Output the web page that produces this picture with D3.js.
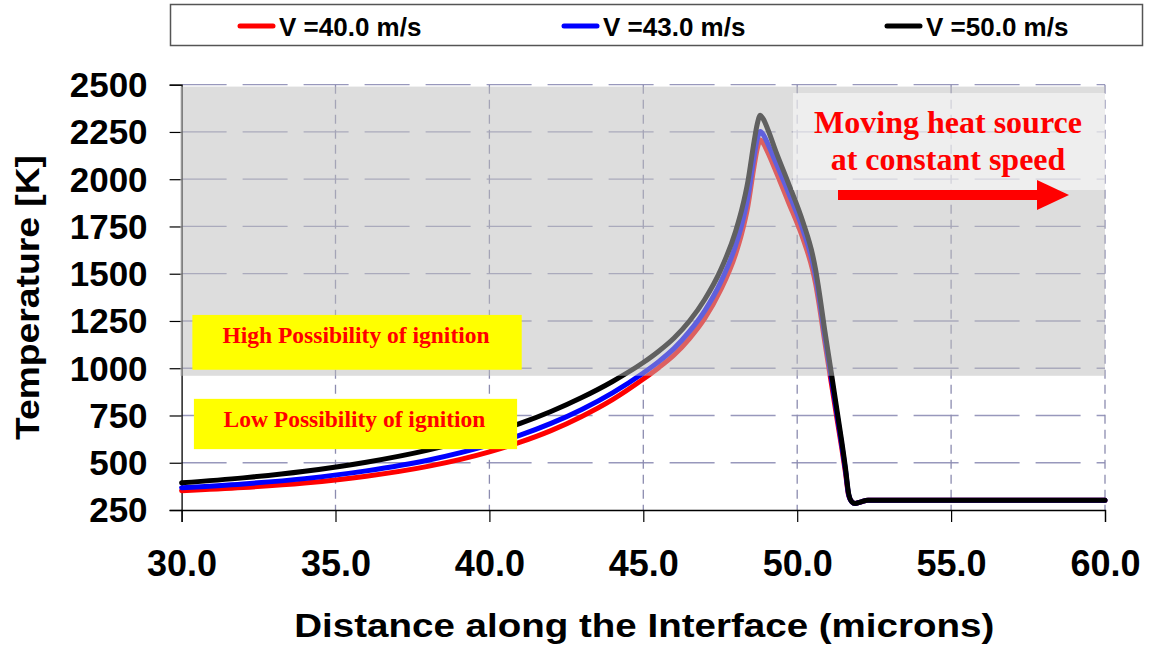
<!DOCTYPE html>
<html>
<head>
<meta charset="utf-8">
<script src="https://cdn.jsdelivr.net/npm/d3@7"></script>
<style>
  html, body { margin: 0; padding: 0; background: #ffffff; }
  svg { display: block; }
</style>
</head>
<body>
<svg id="chart" width="1150" height="649"></svg>
<script>
// ---------------- data ----------------
const distance = [30,32,34,36,38,40,41,42,43,44,45,45.5,46,46.5,47,47.5,48,48.2,48.4,48.6,48.7,48.8,48.9,49.05,49.3,49.7,50.2,50.5,50.6,50.7,50.9,51.1,51.3,51.45,51.57,51.67,51.78,51.88,52.05,52.3,53,56,60];
const tempV40 = [352,369,393,429,481,558,609,670,745,834,943,1003,1070,1157,1265,1410,1605,1715,1860,2070,2160,2208,2190,2140,2045,1885,1680,1520,1445,1350,1135,930,725,575,445,327,292,284,292,302,302,302,302];
const tempV43 = [368,388,416,457,513,594,646,708,782,870,975,1035,1105,1195,1305,1450,1650,1760,1905,2120,2210,2252,2235,2185,2090,1935,1725,1560,1482,1385,1165,958,748,592,458,332,292,284,292,302,302,302,302];
const tempV50 = [394,420,455,503,567,654,708,771,845,930,1030,1090,1160,1250,1365,1515,1725,1840,1990,2200,2290,2338,2318,2262,2150,1985,1767,1600,1520,1420,1195,985,770,610,470,338,292,284,292,302,302,302,302];
const seriesNames = ["V =40.0 m/s", "V =43.0 m/s", "V =50.0 m/s"];
const seriesColors = ["#ff0000", "#0000ff", "#000000"];
const xTicks = [30,35,40,45,50,55,60];
const yTicks = [250,500,750,1000,1250,1500,1750,2000,2250,2500];
const highZone = [960, 2490];   // shaded "high possibility" band (K)
const xTitle = "Distance along the Interface (microns)";
const yTitle = "Temperature [K]";
const highLabel = "High Possibility of ignition";
const lowLabel = "Low Possibility of ignition";
const heatLabel = ["Moving heat source", "at constant speed"];

// ---------------- layout ----------------
const svg = d3.select("#chart");
const L = 181.6, R = 1105, T = 84.7, B = 510;
const x = d3.scaleLinear().domain([30, 60]).range([L, R]);
const y = d3.scaleLinear().domain([250, 2500]).range([B, T]);
const sans = "'Liberation Sans', Arial, sans-serif";
const serif = "'Liberation Serif', 'Times New Roman', serif";

// gridlines
const grid = svg.append("g");
grid.selectAll("line.h").data(yTicks.filter(d => d > 250)).join("line")
  .attr("x1", L).attr("x2", R).attr("y1", d => y(d)).attr("y2", d => y(d))
  .attr("stroke", "#9898bc").attr("stroke-width", 1.3).attr("stroke-dasharray", "45,16");
grid.selectAll("line.v").data(xTicks.filter(d => d > 30)).join("line")
  .attr("x1", d => x(d)).attr("x2", d => x(d)).attr("y1", T).attr("y2", B)
  .attr("stroke", "#8c8cb0").attr("stroke-width", 1.3).attr("stroke-dasharray", "9,6");

// axes
const yAxis = svg.append("g").attr("transform", `translate(${L},0)`)
  .call(d3.axisLeft(y).tickValues(yTicks).tickSize(12).tickPadding(22).tickFormat(d3.format(".0f")));
const xAxis = svg.append("g").attr("transform", `translate(0,${B})`)
  .call(d3.axisBottom(x).tickValues(xTicks).tickSize(12).tickPadding(28).tickFormat(d3.format(".1f")));
[yAxis, xAxis].forEach(g => {
  g.select(".domain").attr("stroke", "#000").attr("stroke-width", 1.3);
  g.selectAll(".tick line").attr("stroke", "#000").attr("stroke-width", 1.2);
  g.selectAll("text").attr("font-family", sans).attr("font-weight", "bold").attr("fill", "#000");
});
yAxis.selectAll("text").attr("font-size", 35).attr("dy", "0.34em");
xAxis.selectAll("text").attr("font-size", 36);

// curves
const line = d3.line().curve(d3.curveMonotoneX).x((d, i) => x(distance[i])).y(d => y(d));
const allSeries = [tempV40, tempV43, tempV50];
svg.append("g").selectAll("path").data(allSeries).join("path")
  .attr("d", d => line(d))
  .attr("fill", "none")
  .attr("stroke", (d, i) => seriesColors[i])
  .attr("stroke-width", 5)
  .attr("stroke-linejoin", "round")
  .attr("stroke-linecap", "round");

// shaded high-possibility zone (semi-transparent)
svg.append("rect")
  .attr("x", L - 1.5).attr("width", R - L + 1.5)
  .attr("y", y(highZone[1])).attr("height", y(highZone[0]) - y(highZone[1]))
  .attr("fill", "#bcbcbc").attr("opacity", 0.51);

// ignition labels
function yellowBox(x0, x1, y0, y1, label, base) {
  svg.append("rect").attr("x", x0).attr("y", y0).attr("width", x1 - x0).attr("height", y1 - y0).attr("fill", "#ffff00");
  svg.append("text").attr("x", (x0 + x1) / 2 - 1).attr("y", base)
    .attr("text-anchor", "middle").attr("font-family", serif).attr("font-weight", "bold")
    .attr("font-size", 23.5).attr("fill", "#ff0000").text(label);
}
yellowBox(x(30.35), x(41.05), y(1282), y(992), highLabel, 343);
yellowBox(x(30.4), x(40.9), y(838), y(572), lowLabel, 427);

// moving heat source box
svg.append("rect").attr("x", 793).attr("y", 93).attr("width", R - 793).attr("height", 97)
  .attr("fill", "#ffffff").attr("opacity", 0.5);
heatLabel.forEach((t, i) => {
  svg.append("text").attr("x", 948).attr("y", 133 + i * 37)
    .attr("text-anchor", "middle").attr("font-family", serif).attr("font-weight", "bold")
    .attr("font-size", 32).attr("fill", "#ff0000").text(t);
});
svg.append("rect").attr("x", 838).attr("y", 190).attr("width", 201).attr("height", 10).attr("fill", "#ff0000");
svg.append("path").attr("d", "M1037,180 L1069,195 L1037,210 Z").attr("fill", "#ff0000");

// axis titles
svg.append("text").attr("x", (L + R) / 2 + 1).attr("y", 637)
  .attr("text-anchor", "middle").attr("font-family", sans).attr("font-weight", "bold")
  .attr("font-size", 33).attr("textLength", 700).attr("lengthAdjust", "spacingAndGlyphs")
  .attr("fill", "#000").text(xTitle);
svg.append("text").attr("transform", "translate(38.5,297.5) rotate(-90)")
  .attr("text-anchor", "middle").attr("font-family", sans).attr("font-weight", "bold")
  .attr("font-size", 33).attr("textLength", 285).attr("lengthAdjust", "spacingAndGlyphs")
  .attr("fill", "#000").text(yTitle);

// legend
const leg = svg.append("g");
leg.append("rect").attr("x", 170.5).attr("y", 4.5).attr("width", 972).attr("height", 41)
  .attr("fill", "#fff").attr("stroke", "#555").attr("stroke-width", 1.5);
const legX = [238, 562, 885];
seriesNames.forEach((name, i) => {
  leg.append("line").attr("x1", legX[i] + 2).attr("x2", legX[i] + 35).attr("y1", 26).attr("y2", 26)
    .attr("stroke", seriesColors[i]).attr("stroke-width", 5).attr("stroke-linecap", "round");
  leg.append("text").attr("x", legX[i] + 41).attr("y", 35.5)
    .attr("font-family", sans).attr("font-weight", "bold").attr("font-size", 26)
    .attr("fill", "#000").text(name);
});
</script>
</body>
</html>
